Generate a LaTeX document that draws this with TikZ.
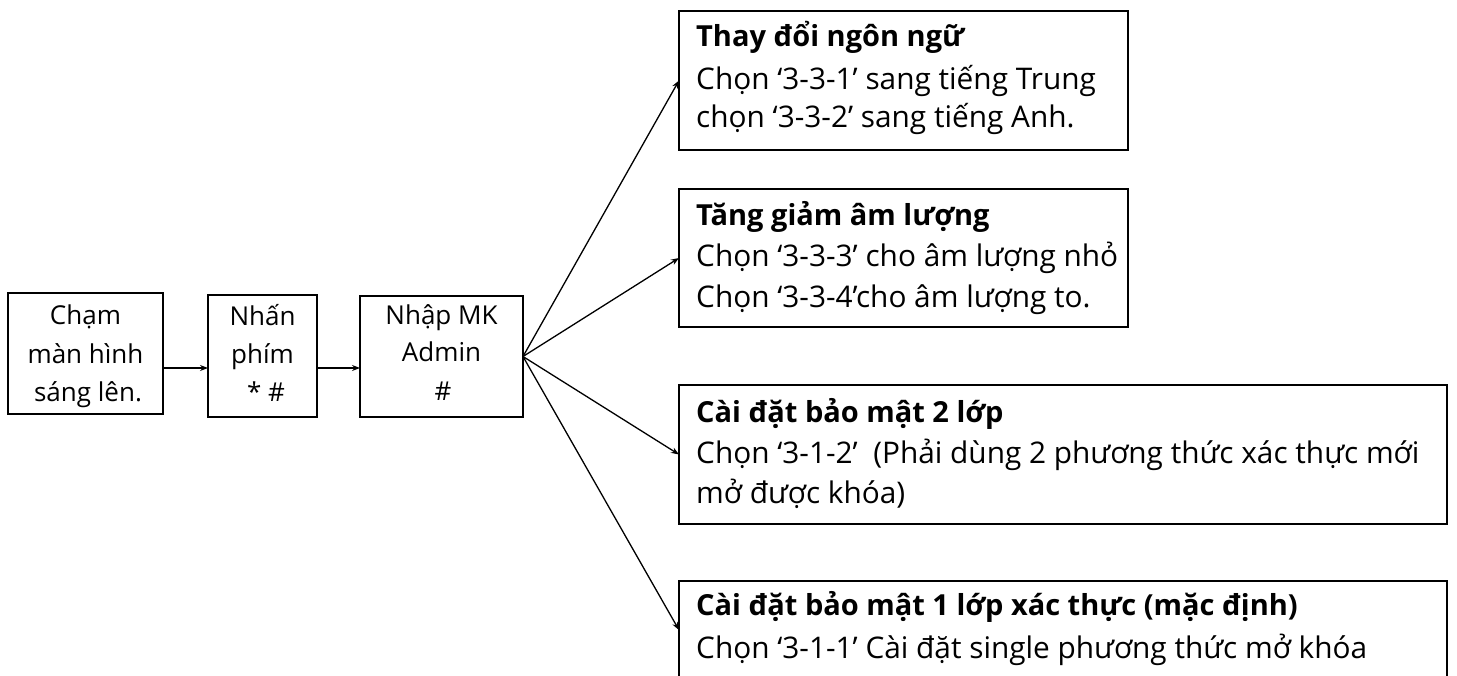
\documentclass[tikz,border=0pt]{standalone}
\usepackage{fontspec}
\setmainfont{Open Sans}
\usetikzlibrary{arrows.meta}
\begin{document}
\begin{tikzpicture}[x=1pt,y=-1pt,
  box/.style={draw, line width=2pt, inner sep=0pt, outer sep=0pt, anchor=north west},
  small/.style={font=\fontsize{26}{38}\selectfont, inner sep=0pt, anchor=base},
  big/.style={font=\fontsize{29.8}{40}\selectfont, inner sep=0pt, anchor=base west},
  head/.style={font=\fontsize{29}{40}\selectfont\bfseries, inner sep=0pt, anchor=base west},
  arr/.style={line width=1.3pt, -{Stealth[length=8pt,width=6pt]}}]
\useasboundingbox (0,0) rectangle (1457,676);
\clip (0,0) rectangle (1457,676);
% left boxes
\node[box, minimum width=155pt, minimum height=121pt] (b1) at (8,293) {};
\node[box, minimum width=109pt, minimum height=122pt] (b2) at (208,295) {};
\node[box, minimum width=163pt, minimum height=121pt] (b3) at (360,296) {};
\node[small] (b1a) at (85.5,325) {Chạm};
\node[small] (b1b) at (85.5,363) {màn hình};
\node[small] (b1c) at (88,402) {sáng lên.};
\node[small] (b2a) at (262.5,326) {Nhấn};
\node[small] (b2b) at (262.5,363) {phím};
\node[small] (b2c) at (266,402) {* \#};
\node[small] (b3a) at (441.5,325) {Nhập MK};
\node[small] (b3b) at (441.5,362) {Admin};
\node[small] (b3c) at (443,400) {\#};
% right boxes
\node[box, minimum width=449pt, minimum height=139pt] (A) at (679,11) {};
\node[box, minimum width=449pt, minimum height=138pt] (B) at (679,189) {};
\node[box, minimum width=768pt, minimum height=139pt] (C) at (679,385) {};
\node[box, minimum width=768pt, minimum height=98pt] (D) at (679,581) {};
\node[head] (A1) at (696,47) {Thay đổi ngôn ngữ};
\node[big] (A2) at (696,90) {Chọn ‘3-3-1’ sang tiếng Trung};
\node[big] (A3) at (696,128) {chọn ‘3-3-2’ sang tiếng Anh.};
\node[head] (B1) at (696,226) {Tăng giảm âm lượng};
\node[big] (B2) at (696,267) {Chọn ‘3-3-3’ cho âm lượng nhỏ};
\node[big] (B3) at (696,308) {Chọn ‘3-3-4’cho âm lượng to.};
\node[head] (C1) at (696,422) {Cài đặt bảo mật 2 lớp};
\node[big] (C2) at (696,463) {Chọn ‘3-1-2’\ \ (Phải dùng 2 phương thức xác thực mới};
\node[big] (C3) at (696,503) {mở được khóa)};
\node[head] (D1) at (696,615) {Cài đặt bảo mật 1 lớp xác thực (mặc định)};
\node[big] (D2) at (696,658) {Chọn ‘3-1-1’ Cài đặt single phương thức mở khóa};
% connectors
\draw[arr] (b1.east |- 0,368) -- (b2.west |- 0,368);
\draw[arr] (b2.east |- 0,368) -- (b3.west |- 0,368);
\draw[arr] (b3.east) -- (A.west);
\draw[arr] (b3.east) -- (B.west);
\draw[arr] (b3.east) -- (C.west);
\draw[arr] (b3.east) -- (D.west);
\end{tikzpicture}
\end{document}
